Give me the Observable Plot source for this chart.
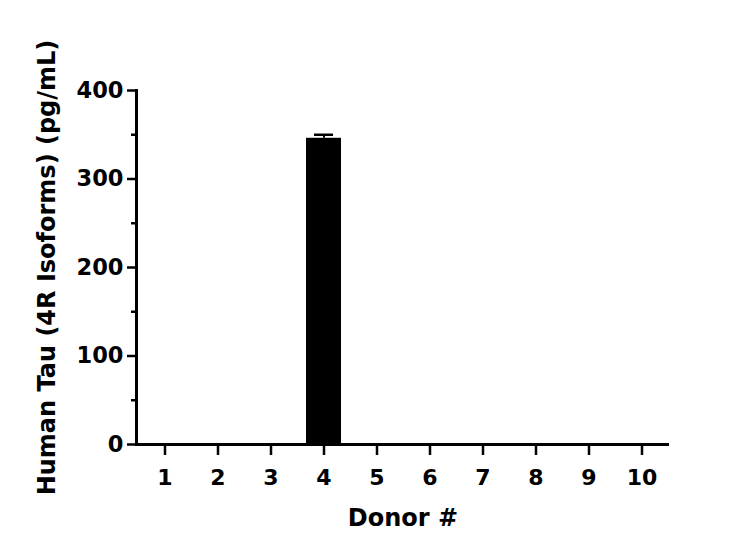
<!DOCTYPE html>
<html>
<head>
<meta charset="utf-8">
<script src="https://cdn.jsdelivr.net/npm/d3@7"></script>
<script src="https://cdn.jsdelivr.net/npm/@observablehq/plot@0.6"></script>
<style>
body { margin: 0; background: #fff; }
#chart svg { font-family: "DejaVu Sans", sans-serif; font-weight: bold; }
</style>
</head>
<body>
<div id="chart"></div>
<script>
const donors = ["1","2","3","4","5","6","7","8","9","10"];
const values = [0, 0, 0, 346, 0, 0, 0, 0, 0, 0];
const errors = [0, 0, 0, 4, 0, 0, 0, 0, 0, 0];
const yMajorTicks = [0, 100, 200, 300, 400];
const yMinorTicks = [50, 150, 250, 350];
const xTitle = "Donor #";
const yTitle = "Human Tau (4R Isoforms) (pg/mL)";

const data = donors.map((d, i) => ({donor: d, value: values[i], err: errors[i]}));
const barData = data.filter(d => d.value > 0);

const chart = Plot.plot({
  width: 750,
  height: 560,
  marginLeft: 136,
  marginRight: 81,
  marginTop: 90,
  marginBottom: 116,
  style: {fontFamily: "'DejaVu Sans', sans-serif", fontWeight: "bold", background: "white", color: "black"},
  x: {type: "band", domain: donors, padding: 0},
  y: {domain: [0, 400]},
  marks: [
    Plot.barY(barData, {x: "donor", y: "value", fill: "black", insetLeft: 9, insetRight: 9}),
    Plot.ruleX(barData, {x: "donor", y1: "value", y2: d => d.value + d.err, stroke: "black", strokeWidth: 2}),
    Plot.tickY(barData, {x: "donor", y: d => d.value + d.err, stroke: "black", strokeWidth: 2.5, insetLeft: 17, insetRight: 17}),
    Plot.axisY({ticks: yMinorTicks, tickSize: 5, tickFormat: () => "", strokeWidth: 2.5, label: null}),
    Plot.axisY({ticks: yMajorTicks, tickSize: 9, tickPadding: 4, strokeWidth: 2.5, fontSize: 22.5, label: null}),
    Plot.axisX({tickSize: 11, tickPadding: 14, strokeWidth: 2.5, fontSize: 22, label: null}),
    Plot.frame({anchor: "left", strokeWidth: 3}),
    Plot.ruleY([0], {strokeWidth: 3}),
    Plot.text([xTitle], {frameAnchor: "bottom", dy: 81, fontSize: 24, fontWeight: "bold"}),
    Plot.text([yTitle], {frameAnchor: "left", dx: -89, rotate: -90, textAnchor: "middle", fontSize: 24, fontWeight: "bold"})
  ]
});
document.getElementById("chart").appendChild(chart);
</script>
</body>
</html>
